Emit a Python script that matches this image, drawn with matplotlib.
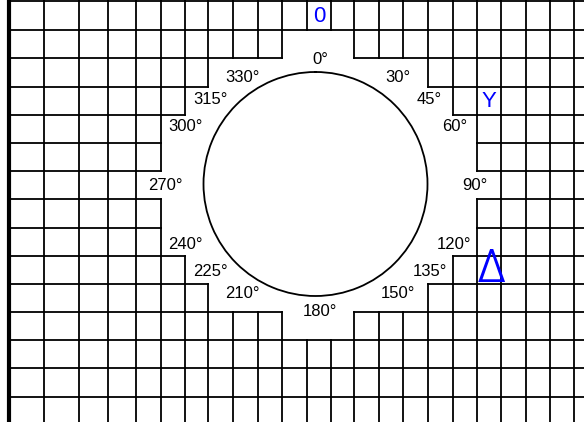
import numpy as np
import matplotlib
matplotlib.use("Agg")
import matplotlib.pyplot as plt
from matplotlib.collections import LineCollection

# ---------------- data ----------------
angles = [0, 30, 45, 60, 90, 120, 135, 150, 180, 210, 225, 240, 270, 300, 315, 330]
angle_labels = [f"{a}°" for a in angles]
cell_texts = ["0", "Y", "Δ"]
cell_text_rows = [0, 3, 9]
cell_text_cols = [11, 18, 18]

# ---------------- layout (pixels) ----------------
W, H = 584, 422
col_edges = [10, 44, 79, 108, 136, 161, 185, 208, 233, 258, 282, 307, 331, 354,
             379, 403, 428, 453, 477, 501, 526, 550, 574, 598]
row_edges = [1, 30, 58, 87, 115, 143, 171, 199, 228, 256, 284, 312, 340, 368, 397, 425]
# blank (erased) cells per row: inclusive column ranges
blank = {1: (10, 12), 2: (7, 15), 3: (6, 16), 4: (5, 17), 5: (5, 17), 6: (4, 18),
         7: (5, 17), 8: (5, 17), 9: (6, 16), 10: (7, 15), 11: (10, 12)}

ncols = len(col_edges) - 1
nrows = len(row_edges) - 1
present = np.ones((nrows, ncols), dtype=bool)
for r, (a, b) in blank.items():
    present[r, a:b + 1] = False

def is_present(r, c):
    if r < 0 or r >= nrows or c < 0 or c >= ncols:
        return False
    return present[r, c]

fig = plt.figure(figsize=(W / 100, H / 100), dpi=100)
fig.patch.set_facecolor("white")

bg = fig.add_axes([0, 0, 1, 1])
bg.set_xlim(0, W)
bg.set_ylim(H, 0)
bg.axis("off")

segs = []
for j, y in enumerate(row_edges):
    for i in range(ncols):
        if is_present(j - 1, i) or is_present(j, i):
            segs.append([(col_edges[i], y), (col_edges[i + 1], y)])
for i in range(1, len(col_edges)):
    x = col_edges[i]
    for j in range(nrows):
        if is_present(j, i - 1) or is_present(j, i):
            segs.append([(x, row_edges[j]), (x, row_edges[j + 1])])
lc = LineCollection(segs, colors="black", linewidths=1.3, capstyle="projecting")
bg.add_collection(lc)
bg.plot([9, 9], [0, H], color="black", lw=3.0, solid_capstyle="butt")

# ---------------- polar axes ----------------
cx, cy, R = 315.5, 184, 112
ax = fig.add_axes([(cx - R) / W, (H - cy - R) / H, 2 * R / W, 2 * R / H],
                  projection="polar")
ax.set_theta_zero_location("N")
ax.set_theta_direction(-1)
ax.set_xticks(np.deg2rad(angles))
ax.set_xticklabels([])
ax.tick_params(axis="x", length=0)
ax.set_yticks([])
ax.grid(False)
ax.spines["polar"].set_linewidth(1.3)
ax.set_facecolor("white")

FONT = "Liberation Sans"
A, B, q, xshift = 155, 126.3, 1.1, 4.5
cap = 0.716 * 12 * 100 / 72
for a, lab in zip(angles, angle_labels):
    th = np.deg2rad(a)
    s, c = np.sin(th), np.cos(th)
    dx = A * s + xshift
    dy = B * np.sign(c) * abs(c) ** q - cap / 2
    ax.annotate(lab, xy=(0.5, 0.5), xycoords="axes fraction",
                xytext=(dx, dy), textcoords="offset pixels",
                ha="center", va="baseline", fontsize=12, family=FONT,
                color="black", annotation_clip=False)

# ---------------- blue cell texts ----------------
sizes = [16, 16, 32]
fams = [FONT, FONT, "Inter"]
weights = ["normal", "normal", 300]
x_adj = [0, 0, 2.5]
base_adj = [-1.5, -1.5, 0]
for t, r, c, s, fa, wt, xa, ba in zip(cell_texts, cell_text_rows, cell_text_cols, sizes,
                                      fams, weights, x_adj, base_adj):
    xc = (col_edges[c] + col_edges[c + 1]) / 2 + xa
    yc = (row_edges[r] + row_edges[r + 1]) / 2
    capt = 0.716 * s * 100 / 72
    ybase = yc + capt / 2 + ba if s < 20 else row_edges[r + 1] - 2.5
    bg.text(xc, ybase, t, ha="center", va="baseline",
            fontsize=s, family=fa, weight=wt, color="#0000ff")

fig.savefig("out.png", dpi=100, facecolor="white")
